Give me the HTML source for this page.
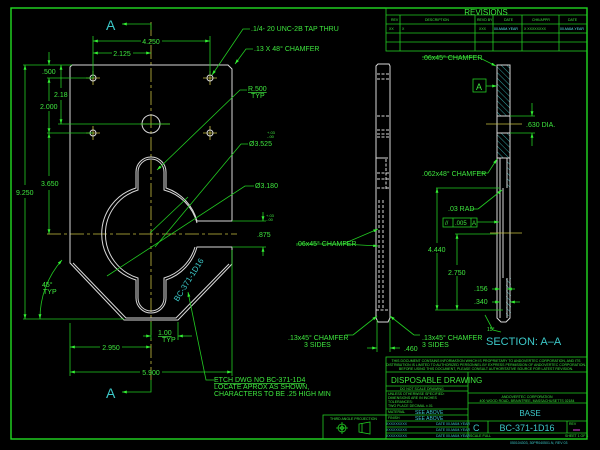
<!DOCTYPE html>
<html><head><meta charset="utf-8"><style>
html,body{margin:0;padding:0;background:#000;width:600px;height:450px;overflow:hidden}
svg{display:block}
text{font-family:"Liberation Sans",sans-serif;fill:#3ee63e}
.w{stroke:#d8d8d8;fill:none;stroke-width:1}
.g{stroke:#22cc22;fill:none;stroke-width:0.8}
.y{stroke:#c8c040;fill:none;stroke-width:0.8}
.c{fill:#3cc8c8}
.t{font-size:7px}
.s{font-size:3.5px}
</style></head><body>
<svg width="600" height="450" viewBox="0 0 600 450" xmlns="http://www.w3.org/2000/svg">
<defs>
<marker id="a" viewBox="0 0 10 6" refX="10" refY="3" markerWidth="6" markerHeight="3.6" orient="auto-start-reverse"><path d="M0,0L10,3L0,6z" fill="#33ee33"/></marker>
<pattern id="h" width="4" height="4" patternUnits="userSpaceOnUse" patternTransform="rotate(-45)"><line x1="0" y1="0" x2="0" y2="4" stroke="#3cc8c8" stroke-width="0.8"/></pattern>
</defs>
<rect x="11" y="8" width="576" height="431" fill="none" stroke="#22dd22" stroke-width="1.4"/>
<g class="g">
<rect x="386" y="8" width="201" height="43"/>
<line x1="386" y1="15" x2="587" y2="15"/><line x1="386" y1="24" x2="587" y2="24"/><line x1="386" y1="33" x2="587" y2="33"/><line x1="386" y1="42" x2="587" y2="42"/>
<line x1="400" y1="15" x2="400" y2="51"/><line x1="475" y1="15" x2="475" y2="51"/><line x1="493" y1="15" x2="493" y2="51"/><line x1="522" y1="15" x2="522" y2="51"/><line x1="559" y1="15" x2="559" y2="51"/>
</g>
<text x="486" y="15" font-size="8" text-anchor="middle">REVISIONS</text>
<g class="s"><text x="391" y="21">REV</text><text x="425" y="21">DESCRIPTION</text><text x="477" y="21">REVD BY</text><text x="504" y="21">DATE</text><text x="532" y="21">CHK/APPR</text><text x="568" y="21">DATE</text>
<text x="389" y="30">XX</text><text x="402" y="30">X</text><text x="479" y="30">XXX</text><text x="494" y="30" style="fill:#5ee">00-MAM-YEAR</text><text x="524" y="30">X XXXXXXXX</text><text x="560" y="30" style="fill:#5ee">00-MAM-YEAR</text></g>

<line class="y" x1="151" y1="22" x2="151" y2="380" stroke-dasharray="14,3,3,3"/>
<line class="y" x1="47" y1="234" x2="237" y2="234" stroke-dasharray="14,3,3,3"/>
<line class="y" x1="140" y1="124" x2="170" y2="124"/>
<path class="w" d="M72,65 L228,65 L232,69 L232,221 L197,221 A48,48 0 0 0 166,188 L166,172 A15,15 0 0 0 136,172 L136,188 A48,48 0 0 0 136,280 L136,298 A15,15 0 0 0 166,298 L166,280 A48,48 0 0 0 197,247 L232,247 L232,264 L178,320 L124,320 L70,263 L70,67 Z"/>
<path class="w" stroke-width="0.7" d="M197,223 A46,46 0 0 0 164,190 L164,172 A13,13 0 0 0 138,172 L138,190 A46,46 0 0 0 138,278 L138,298 A13,13 0 0 0 164,298 L164,278 A46,46 0 0 0 195,247 M229,264 L176,318 L126,318 L73,263"/>
<circle class="w" cx="151" cy="124" r="9"/>
<g class="y"><path d="M86,78h14M93,71v14M203,78h14M210,71v14M86,133h14M93,126v14M203,133h14M210,126v14"/></g>
<g class="w"><circle cx="93" cy="78" r="3"/><circle cx="210" cy="78" r="3"/><circle cx="93" cy="133" r="3"/><circle cx="210" cy="133" r="3"/></g>
<text x="178" y="302" font-size="8" transform="rotate(-58 178 302)" style="fill:#3cc8c8">BC-371-1D16</text>

<path class="g" d="M151,30V24H122" marker-end="url(#a)"/>
<path class="g" d="M151,380V392H122" marker-end="url(#a)"/>
<text x="106" y="30" font-size="14" style="fill:#3cc8c8">A</text>
<text x="106" y="398" font-size="14" style="fill:#3cc8c8">A</text>

<g class="g">
<path d="M93,36V78M210,36V75"/>
<line x1="93" y1="41" x2="141" y2="41" marker-start="url(#a)"/><line x1="162" y1="41" x2="210" y2="41" marker-end="url(#a)"/>
<line x1="93" y1="53" x2="112" y2="53" marker-start="url(#a)"/><line x1="133" y1="53" x2="151" y2="53" marker-end="url(#a)"/>
<path d="M23,65H72M47,78H93M58,124H170M47,133H93M23,319H124"/>
<line x1="49" y1="52" x2="49" y2="65" marker-end="url(#a)"/><line x1="49" y1="78" x2="49" y2="101" marker-start="url(#a)"/>
<line x1="49" y1="111" x2="49" y2="133" marker-end="url(#a)"/><line x1="49" y1="133" x2="49" y2="176" marker-start="url(#a)"/><line x1="49" y1="190" x2="49" y2="234" marker-end="url(#a)"/>
<line x1="61" y1="65" x2="61" y2="88" marker-start="url(#a)"/><line x1="61" y1="100" x2="61" y2="124" marker-end="url(#a)"/>
<line x1="25" y1="65" x2="25" y2="185" marker-start="url(#a)"/><line x1="25" y1="198" x2="25" y2="319" marker-end="url(#a)"/>
<path d="M40,319 A88,88 0 0 1 62,260" marker-end="url(#a)" marker-start="url(#a)"/>
<path d="M70,323V376M232,250V376M178,322V340M151,322V340"/>
<line x1="70" y1="347" x2="100" y2="347" marker-start="url(#a)"/><line x1="122" y1="347" x2="151" y2="347" marker-end="url(#a)"/>
<line x1="70" y1="372" x2="140" y2="372" marker-start="url(#a)"/><line x1="162" y1="372" x2="232" y2="372" marker-end="url(#a)"/>
<line x1="143" y1="336" x2="151" y2="336" marker-end="url(#a)"/><line x1="192" y1="336" x2="178" y2="336" marker-end="url(#a)"/>
<path d="M232,221H266M232,247H266"/>
<line x1="263" y1="212" x2="263" y2="221" marker-end="url(#a)"/><line x1="263" y1="256" x2="263" y2="247" marker-end="url(#a)"/>
<path d="M250,29H243L212,75" marker-end="url(#a)"/>
<path d="M253,49H246L235,64" marker-end="url(#a)"/>
<path d="M247,90H240L157,170" marker-end="url(#a)"/>
<path d="M248,144H241L155,247M188,197L150,233" />
<path d="M254,186H245L107,276"/>
<path d="M214,380H206L188,292" marker-end="url(#a)"/>
</g>
<g class="t">
<text x="151" y="44" text-anchor="middle">4.250</text>
<text x="122" y="56" text-anchor="middle">2.125</text>
<text x="42" y="74">.500</text>
<text x="54" y="97">2.18</text>
<text x="40" y="109">2.000</text>
<text x="41" y="186">3.650</text>
<text x="16" y="195">9.250</text>
<text x="42" y="287">45°</text><text x="43" y="294">TYP</text>
<text x="158" y="335" text-decoration="underline">1.00</text><text x="162" y="342">TYP</text>
<text x="111" y="350" text-anchor="middle">2.950</text>
<text x="151" y="375" text-anchor="middle">5.900</text>
<text x="251" y="31">.1/4- 20 UNC-2B TAP THRU</text>
<text x="254" y="51">.13 X 48° CHAMFER</text>
<text x="248" y="91" text-decoration="underline">R.500</text><text x="251" y="98">TYP</text>
<text x="249" y="146">Ø3.525</text>
<text x="255" y="188">Ø3.180</text>
<text x="257" y="237">.875</text>
<text x="214" y="382" text-decoration="underline">ETCH DWG NO BC-371-1D4</text>
<text x="214" y="389">LOCATE APROX AS SHOWN,</text>
<text x="214" y="396">CHARACTERS TO BE .25 HIGH MIN</text>
</g>
<text x="267" y="134" font-size="4">+.03</text><text x="267" y="138" font-size="4">-.00</text>
<text x="266" y="217" font-size="4">+.03</text><text x="266" y="221" font-size="4">-.00</text>

<g class="w">
<path d="M376,66L378,64H389L390,66V318L388,322H378L376,318Z"/>
<path d="M377,74H389M377,79H389M377,116H389M377,130H389M377,134H389M377,137H389M376,158H389M377,173H389M377,179H389M377,188H389M376,310H390" stroke-dasharray="3,1.5"/>
<path d="M378,158H386V190" stroke-dasharray="3,1.5"/>
<path d="M379,200V310M383,200V310" stroke-dasharray="3,2"/>
</g>
<g class="g">
<path d="M296,244H343L378,229" marker-end="url(#a)"/><path d="M343,244L378,246" marker-end="url(#a)"/>
<path d="M353,335L377,316" marker-end="url(#a)"/><path d="M353,335H345"/>
<path d="M414,335L390,316" marker-end="url(#a)"/><path d="M414,335H420"/>
<path d="M377,320V352M390,320V352"/>
<line x1="367" y1="348" x2="377" y2="348" marker-end="url(#a)"/><line x1="400" y1="348" x2="390" y2="348" marker-end="url(#a)"/>
</g>
<g class="t">
<text x="296" y="246">.06x45° CHAMFER</text>
<text x="288" y="340">.13x45° CHAMFER</text><text x="304" y="347">3 SIDES</text>
<text x="422" y="340">.13x45° CHAMFER</text><text x="422" y="347">3 SIDES</text>
<text x="404" y="351">.460</text>
</g>

<rect x="497" y="65" width="13" height="51" fill="url(#h)"/>
<rect x="497" y="133" width="13" height="25" fill="url(#h)"/>
<rect x="507" y="158" width="3" height="30" fill="url(#h)"/>
<rect x="506" y="278" width="5" height="38" fill="url(#h)"/>
<g class="w">
<path d="M497,65H510V318L506,322H501L497,318Z"/>
<path d="M497,116H510M497,133H510M497,158H510M500,158V318M507,158V188M503,188V278M507,278V318"/>
</g>
<line class="y" x1="486" y1="124" x2="522" y2="124"/>
<line class="y" x1="490" y1="233" x2="522" y2="233"/>
<g class="g">
<path d="M422,57H478L496,66" marker-end="url(#a)"/>
<rect x="473" y="79" width="13" height="13"/>
<line x1="486" y1="86" x2="497" y2="86" marker-end="url(#a)"/>
<path d="M510,116H535M510,133H535"/>
<line x1="532" y1="103" x2="532" y2="116" marker-end="url(#a)"/><line x1="532" y1="146" x2="532" y2="133" marker-end="url(#a)"/>
<path d="M478,173H488L497,159" marker-end="url(#a)"/>
<path d="M478,209L502,190" marker-end="url(#a)"/><path d="M471,209H478"/>
<rect x="443" y="218" width="34" height="9"/><path d="M453,218V227M471,218V227"/>
<line x1="477" y1="222" x2="499" y2="222" marker-end="url(#a)"/>
<path d="M436,188H500M455,234H498M435,310H503"/>
<line x1="437" y1="188" x2="437" y2="243" marker-start="url(#a)"/><line x1="437" y1="253" x2="437" y2="310" marker-end="url(#a)"/>
<line x1="457" y1="234" x2="457" y2="265" marker-start="url(#a)"/><line x1="457" y1="276" x2="457" y2="310" marker-end="url(#a)"/>
<line x1="492" y1="289" x2="500" y2="289" marker-end="url(#a)"/><line x1="515" y1="289" x2="507" y2="289" marker-end="url(#a)"/>
<line x1="492" y1="302" x2="500" y2="302" marker-end="url(#a)"/><line x1="520" y1="302" x2="510" y2="302" marker-end="url(#a)"/>
<path d="M485,315L493,330L501,332"/>
</g>
<g class="t">
<text x="422" y="60">.06x45° CHAMFER</text>
<text x="476" y="90" font-size="9">A</text>
<text x="526" y="127">.630 DIA.</text>
<text x="422" y="176">.062x48° CHAMFER</text>
<text x="448" y="211">.03 RAD</text>
<text x="445" y="225" font-size="6">//</text><text x="455" y="225" font-size="6">.005</text><text x="472" y="225" font-size="6">A</text>
<text x="428" y="252">4.440</text>
<text x="448" y="275">2.750</text>
<text x="474" y="291">.156</text>
<text x="474" y="304">.340</text>
<text x="487" y="331" font-size="5">15°</text>
</g>
<text x="486" y="345" font-size="11" style="fill:#3cc8c8">SECTION: A–A</text>

<g class="g">
<rect x="386" y="357" width="201" height="82"/>
<path d="M386,372H587M468,372V439M386,386H468M386,391H468M386,409H468M386,415H468M386,421H468M386,427H468M386,433H468M468,393H587M468,403H587M468,421H587M468,433H587M488,421V433M567,421V433"/>
<rect x="323" y="415" width="63" height="24"/>
</g>
<g class="s">
<text x="486" y="362" text-anchor="middle">THIS DOCUMENT CONTAINS INFORMATION WHICH IS PROPRIETARY TO ANDOVERTEC CORPORATION, AND ITS</text>
<text x="486" y="366" text-anchor="middle">DISTRIBUTION IS LIMITED TO AUTHORIZED PERSONNEL BY EXPRESS PERMISSION OF ANDOVERTEC CORPORATION.</text>
<text x="486" y="370" text-anchor="middle">BEFORE USING THIS DOCUMENT, PLEASE CONSULT AUTHORITATIVE SOURCE FOR LATEST REVISION.</text>
<text x="400" y="390">DO NOT SCALE DRAWING</text>
<text x="388" y="395">UNLESS OTHERWISE SPECIFIED:</text><text x="388" y="399">DIMENSIONS ARE IN INCHES</text><text x="388" y="403">TOLERANCES:</text><text x="388" y="407">TWO PLACE DECIMAL ±.01</text>
<text x="388" y="413">MATERIAL</text><text x="388" y="419">FINISH</text>
<text x="527" y="398" text-anchor="middle">ANDOVERTEC CORPORATION</text>
<text x="527" y="402" text-anchor="middle">400 WOOD ROAD, BRAINTREE, MASSACHUSETTS 02184</text>
<text x="470" y="437">SCALE FULL</text><text x="565" y="437">SHEET 1 OF 1</text>
<text x="569" y="425">REV</text>
<text x="330" y="420">THIRD ANGLE PROJECTION</text>
<text x="510" y="444" style="fill:#3cc8c8">050104303, 30PR040501.N, REV 03</text>
<text x="386" y="425" style="fill:#3cc8c8">XXXXXXXXX</text><text x="386" y="431" style="fill:#3cc8c8">XXXXXXXXX</text><text x="386" y="437" style="fill:#3cc8c8">XXXXXXXXX</text>
<text x="436" y="425" style="fill:#3cc8c8">DATE 00-MAM-YEAR</text><text x="436" y="431" style="fill:#3cc8c8">DATE 00-MAM-YEAR</text><text x="436" y="437" style="fill:#3cc8c8">DATE 00-MAM-YEAR</text>
</g>
<text x="391" y="383" font-size="8">DISPOSABLE DRAWING</text>
<text x="415" y="414" font-size="5" style="fill:#3cc8c8">SEE ABOVE</text>
<text x="415" y="420" font-size="5" style="fill:#3cc8c8">SEE ABOVE</text>
<text x="530" y="416" font-size="8" text-anchor="middle" style="fill:#3cc8c8">BASE</text>
<text x="473" y="431" font-size="9" style="fill:#3cc8c8">C</text>
<text x="527" y="431" font-size="9" text-anchor="middle" style="fill:#3cc8c8">BC-371-1D16</text>
<line x1="573" y1="430" x2="580" y2="430" stroke="#e040e0" stroke-width="1"/>
<g class="g">
<circle cx="342" cy="428" r="4"/><circle cx="342" cy="428" r="1.5"/><path d="M336,428H348M342,422V434"/>
<path d="M359,424L370,422V434L359,432ZM362,423V433"/>
</g>
</svg>
</body></html>
